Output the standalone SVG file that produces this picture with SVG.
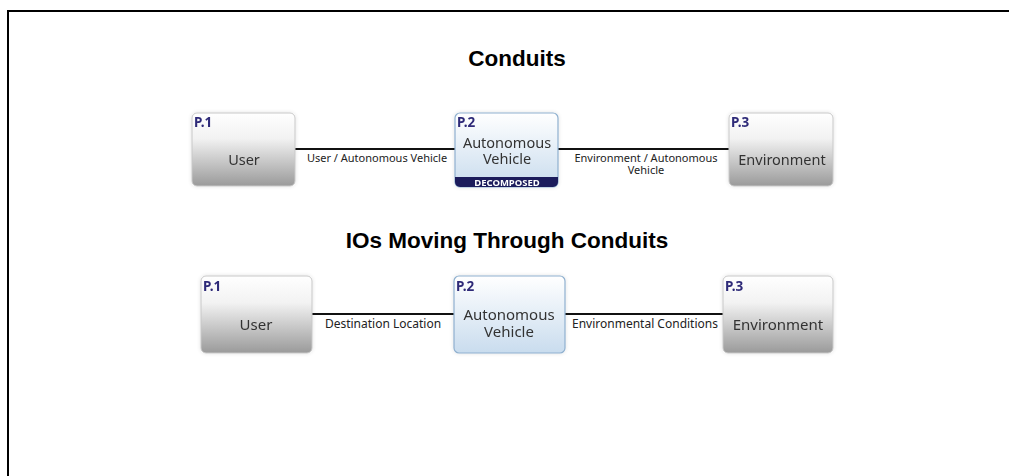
<svg xmlns="http://www.w3.org/2000/svg" width="1009" height="476" viewBox="0 0 1009 476">
<style>
.title{font-family:"Liberation Sans",Arial,sans-serif;font-weight:bold;font-size:22.5px;fill:#000;text-anchor:middle}
.pid{font-family:"Noto Sans","Open Sans",sans-serif;font-weight:bold;font-size:13.5px;fill:#2e2a78}
.lbl{font-family:"Noto Sans","Open Sans",sans-serif;font-size:14.5px;fill:#333;text-anchor:middle}
.lbl2{font-family:"Noto Sans","Open Sans",sans-serif;font-size:15px;fill:#333;text-anchor:middle}
.clbl{font-family:"Noto Sans","Open Sans",sans-serif;font-size:11px;fill:#222;text-anchor:middle}
.clbl2{font-family:"Noto Sans","Open Sans",sans-serif;font-size:12px;fill:#222;text-anchor:middle}
.gray{fill:url(#gGray);stroke:#c8c8c8;stroke-width:1}
.blue{fill:url(#gBlue);stroke:#8fb0cf;stroke-width:1.2}
.conn{stroke:#111;stroke-width:2;fill:none}
</style>
<defs>
<linearGradient id="gGray" x1="0" y1="0" x2="0" y2="1">
<stop offset="0" stop-color="#ffffff"/>
<stop offset="0.35" stop-color="#f2f2f2"/>
<stop offset="1" stop-color="#9a9a9a"/>
</linearGradient>
<linearGradient id="gBlue" x1="0" y1="0" x2="0" y2="1">
<stop offset="0" stop-color="#ffffff"/>
<stop offset="1" stop-color="#c9dcee"/>
</linearGradient>
<filter id="sh" x="-10%" y="-10%" width="120%" height="120%">
<feGaussianBlur in="SourceAlpha" stdDeviation="2"/>
<feComponentTransfer><feFuncA type="linear" slope="0.12"/></feComponentTransfer>
<feMerge><feMergeNode/><feMergeNode in="SourceGraphic"/></feMerge>
</filter>
</defs>
<rect width="1009" height="476" fill="#fff"/>
<path d="M8 480 V11 H1012" fill="none" stroke="#000" stroke-width="2"/>
<text class="title" x="517" y="66">Conduits</text>
<text class="title" x="507" y="248">IOs Moving Through Conduits</text>
<g id="connectors">
<line class="conn" x1="295" y1="149" x2="455" y2="149"/>
<line class="conn" x1="558" y1="149" x2="729" y2="149"/>
<line class="conn" x1="312" y1="314" x2="454" y2="314"/>
<line class="conn" x1="565" y1="314" x2="723" y2="314"/>
<text class="clbl" x="377" y="162">User / Autonomous Vehicle</text>
<text class="clbl" x="646" y="162">Environment / Autonomous</text>
<text class="clbl" x="646" y="174">Vehicle</text>
<text class="clbl2" x="383" y="328">Destination Location</text>
<text class="clbl2" x="645" y="328">Environmental Conditions</text>
</g>
<g id="c-p1" filter="url(#sh)">
<rect class="gray" x="192" y="113" width="103" height="73" rx="5"/>
<text class="pid" x="194" y="127">P.1</text>
<text class="lbl" x="244" y="165">User</text>
</g>
<g id="c-p2" filter="url(#sh)">
<rect class="blue" x="455" y="113" width="103" height="74" rx="5"/>
<path d="M455 177 H558 V182 a5 5 0 0 1 -5 5 H460 a5 5 0 0 1 -5 -5 Z" fill="#1c1c5c"/>
<text class="pid" x="457" y="127">P.2</text>
<text class="lbl" x="507" y="148">Autonomous</text>
<text class="lbl" x="507" y="164">Vehicle</text>
<text x="507" y="185.5" text-anchor="middle" font-family="Noto Sans,Open Sans,sans-serif" font-weight="bold" font-size="9.5" fill="#fff">DECOMPOSED</text>
</g>
<g id="c-p3" filter="url(#sh)">
<rect class="gray" x="729" y="113" width="104" height="73" rx="5"/>
<text class="pid" x="731" y="127">P.3</text>
<text class="lbl" x="782" y="165">Environment</text>
</g>
<g id="i-p1" filter="url(#sh)">
<rect class="gray" x="201" y="276" width="111" height="77" rx="5"/>
<text class="pid" x="203" y="291">P.1</text>
<text class="lbl2" x="256" y="330">User</text>
</g>
<g id="i-p2" filter="url(#sh)">
<rect class="blue" x="454" y="276" width="111" height="77" rx="5"/>
<text class="pid" x="456" y="291">P.2</text>
<text class="lbl2" x="509" y="320">Autonomous</text>
<text class="lbl2" x="509" y="337">Vehicle</text>
</g>
<g id="i-p3" filter="url(#sh)">
<rect class="gray" x="723" y="276" width="110" height="77" rx="5"/>
<text class="pid" x="725" y="291">P.3</text>
<text class="lbl2" x="778" y="330">Environment</text>
</g>
</svg>
